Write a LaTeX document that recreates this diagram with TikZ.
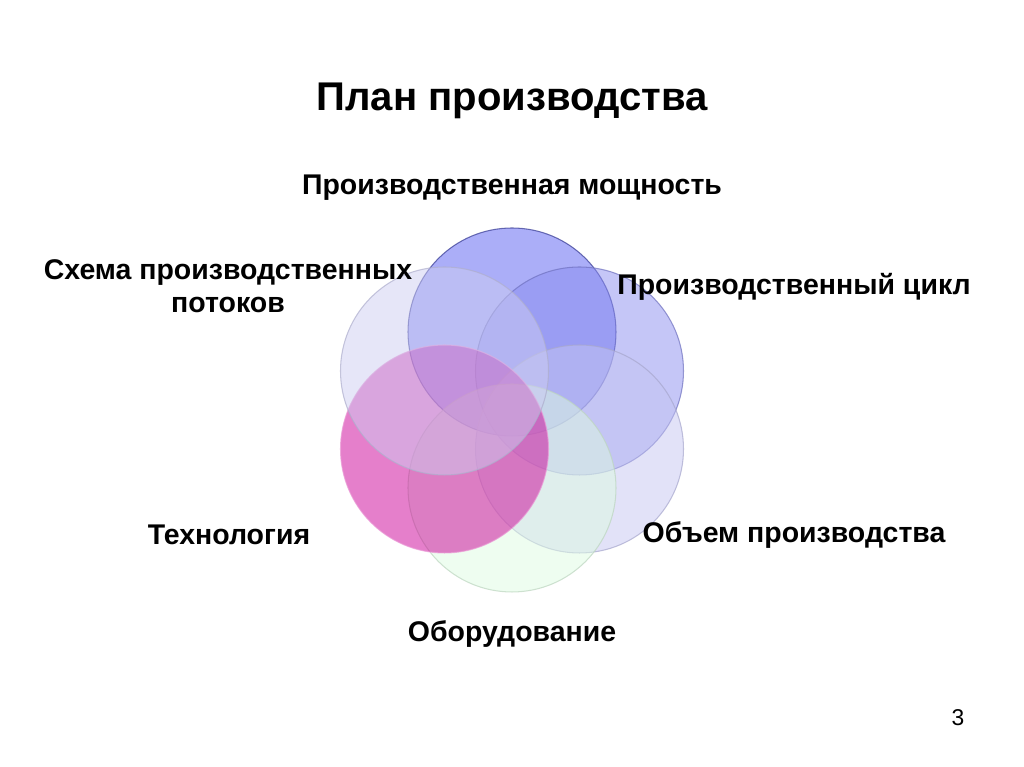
\documentclass[tikz,border=0pt]{standalone}
\usepackage{fontspec}
\setmainfont{Liberation Sans}
\usepackage{tikz}
\usepackage{xcolor}

\definecolor{ringA}{RGB}{87,93,241}
\definecolor{ringB}{RGB}{139,141,239}
\definecolor{ringC}{RGB}{197,197,241}
\definecolor{ringD}{RGB}{221,251,225}
\definecolor{ringE}{RGB}{203,0,151}
\definecolor{ringF}{RGB}{205,205,241}

\begin{document}
\begin{tikzpicture}[
            bubble/.style={circle, minimum size=4.16cm, inner sep=0pt, fill opacity=0.5, draw opacity=0.7, line width=0.6pt},
            label/.style={font=\fontsize{16.2}{19}\selectfont\bfseries, align=center, text=black},
            heading/.style={font=\fontsize{22.8}{27}\selectfont\bfseries, text=black}
        ]
            \useasboundingbox (0,0) rectangle (20.48,15.34);

            % Title
            \node[heading] (title) at (10.24,13.33) {План производства};

            % Circles
            \node[bubble, fill=ringA, draw=ringA!60!black] (capacity) at (10.24,8.70) {};
            \node[bubble, fill=ringB, draw=ringB!80!black] (cycle) at (11.59,7.92) {};
            \node[bubble, fill=ringC, draw=ringC!85!black] (volume) at (11.59,6.36) {};
            \node[bubble, fill=ringD, draw=ringD!85!black] (equipment) at (10.24,5.58) {};
            \node[bubble, fill=ringE, draw=ringE!40!white] (technology) at (8.89,6.36) {};
            \node[bubble, fill=ringF, draw=ringF!85!black] (scheme) at (8.89,7.92) {};

            % Labels
            \node[label] (capacitytext) at (10.24,11.58) {Производственная мощность};
            \node[label] (cycletext) at (15.88,9.60) {Производственный цикл};
            \node[label] (volumetext) at (15.88,4.64) {Объем производства};
            \node[label] (equipmenttext) at (10.24,2.66) {Оборудование};
            \node[label] (technologytext) at (4.58,4.64) {Технология};
            \node[label] (schemetext) at (4.56,9.61) {Схема производственных\\потоков};

            % Page number
            \node[font=\fontsize{13}{15}\selectfont] (pagenum) at (19.16,0.98) {3};

        \end{tikzpicture}
\end{document}
